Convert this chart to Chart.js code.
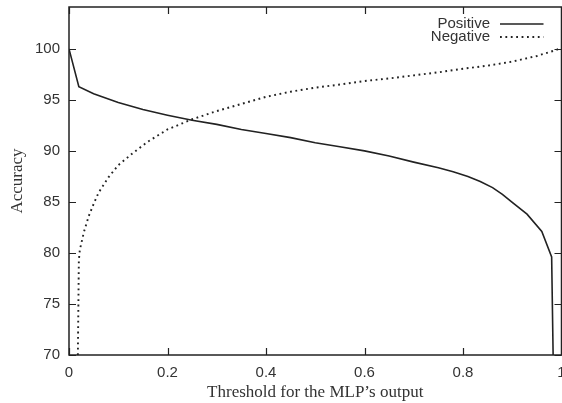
<!DOCTYPE html>
<html>
<head>
<meta charset="utf-8">
<script src="https://cdn.jsdelivr.net/npm/chart.js@4.4.1/dist/chart.umd.min.js"></script>
<style>
  html, body { margin: 0; padding: 0; background: #fff; overflow: hidden; }
  #wrap { position: relative; width: 562px; height: 403px; }
</style>
</head>
<body>
<div id="wrap"><canvas id="c"></canvas></div>
<script>
// ---- data ----
const positiveThresholds = [0, 0.02, 0.05, 0.1, 0.15, 0.2, 0.25, 0.3, 0.35, 0.4, 0.45, 0.5, 0.55, 0.6, 0.65, 0.7, 0.75, 0.78, 0.81, 0.835, 0.86, 0.88, 0.9, 0.93, 0.96, 0.98, 0.983];
const positiveAccuracy   = [100, 96.3, 95.6, 94.75, 94.05, 93.5, 93.0, 92.6, 92.1, 91.7, 91.3, 90.8, 90.4, 90.0, 89.5, 88.9, 88.35, 87.95, 87.5, 87.0, 86.4, 85.75, 84.95, 83.8, 82.1, 79.6, 70];

const negativeThresholds = [0.018, 0.02, 0.022, 0.03, 0.04, 0.05, 0.06, 0.08, 0.1, 0.13, 0.16, 0.2, 0.25, 0.3, 0.35, 0.4, 0.45, 0.5, 0.55, 0.6, 0.65, 0.7, 0.75, 0.8, 0.85, 0.9, 0.95, 0.99, 1.0];
const negativeAccuracy   = [70, 79.3, 80.3, 82.0, 83.6, 84.8, 85.9, 87.4, 88.6, 89.8, 90.9, 92.1, 93.1, 93.9, 94.6, 95.3, 95.8, 96.2, 96.5, 96.85, 97.1, 97.4, 97.7, 98.05, 98.35, 98.75, 99.3, 99.9, 100.1];

const seriesLabels = ['Positive', 'Negative'];
const xTickValues = [0, 0.2, 0.4, 0.6, 0.8, 1];
const yTickValues = [70, 75, 80, 85, 90, 95, 100];
const xTitle = 'Threshold for the MLP\u2019s output';
const yTitle = 'Accuracy';

const INK = '#222';
const TEXT = '#333';

function pts(xs, ys) { return xs.map((x, i) => ({ x: x, y: ys[i] })); }

// frame, inward ticks and gnuplot-style legend
const framePlugin = {
  id: 'frame',
  afterDatasetsDraw(chart) {
    const { ctx, chartArea: a, scales } = chart;
    const xs = scales.x, ys = scales.y;
    const L = 7;
    ctx.save();
    ctx.strokeStyle = INK;
    ctx.lineWidth = 1.2;
    ctx.setLineDash([]);
    ctx.beginPath();
    xTickValues.forEach(v => {
      const px = Math.round(xs.getPixelForValue(v)) + 0.5;
      ctx.moveTo(px, a.bottom); ctx.lineTo(px, a.bottom - L);
      ctx.moveTo(px, a.top); ctx.lineTo(px, a.top + L);
    });
    yTickValues.forEach(v => {
      const py = Math.round(ys.getPixelForValue(v)) + 0.5;
      ctx.moveTo(a.left, py); ctx.lineTo(a.left + L, py);
      ctx.moveTo(a.right, py); ctx.lineTo(a.right - L, py);
    });
    ctx.stroke();
    ctx.lineWidth = 1.5;
    ctx.strokeRect(a.left, a.top, a.right - a.left, a.bottom - a.top);

    // legend
    ctx.font = '15px "Liberation Sans", Arial, sans-serif';
    ctx.fillStyle = TEXT;
    ctx.textAlign = 'right';
    ctx.textBaseline = 'middle';
    chart.data.datasets.forEach((ds, i) => {
      const y = a.top + 16.5 + i * 13;
      ctx.fillText(ds.label, a.right - 71.5, y);
      ctx.strokeStyle = ds.borderColor;
      ctx.lineWidth = ds.borderWidth;
      ctx.setLineDash(ds.borderDash || []);
      ctx.beginPath();
      ctx.moveTo(a.right - 61.5, y + 0.5);
      ctx.lineTo(a.right - 18, y + 0.5);
      ctx.stroke();
    });
    ctx.restore();
  }
};

const fmt = v => String(+Number(v).toFixed(1));

new Chart(document.getElementById('c'), {
  type: 'scatter',
  data: {
    datasets: [
      {
        label: seriesLabels[0],
        data: pts(positiveThresholds, positiveAccuracy),
        showLine: true,
        borderColor: INK,
        borderWidth: 1.6,
        pointRadius: 0,
        tension: 0
      },
      {
        label: seriesLabels[1],
        data: pts(negativeThresholds, negativeAccuracy),
        showLine: true,
        borderColor: INK,
        borderWidth: 1.9,
        borderDash: [1.8, 3.6],
        pointRadius: 0,
        tension: 0
      }
    ]
  },
  options: {
    responsive: true,
    maintainAspectRatio: false,
    animation: false,
    devicePixelRatio: 1,
    layout: { padding: { top: 7, right: 0.5, left: 0, bottom: 0 } },
    plugins: { legend: { display: false }, tooltip: { enabled: false } },
    scales: {
      x: {
        type: 'linear',
        min: 0, max: 1,
        grid: { display: false, drawTicks: false, tickLength: 0 },
        border: { display: false },
        afterBuildTicks: s => { s.ticks = xTickValues.map(v => ({ value: v })); },
        ticks: {
          color: TEXT,
          font: { family: '"Liberation Sans", Arial, sans-serif', size: 15 },
          padding: 8.5,
          maxRotation: 0,
          callback: fmt
        },
        title: {
          display: true,
          text: xTitle,
          color: TEXT,
          font: { family: '"Liberation Serif", "Times New Roman", serif', size: 17 },
          padding: { top: 0, bottom: 0 }
        },
        afterFit: s => { s.height = 48; s.paddingLeft = 0; s.paddingRight = 0; }
      },
      y: {
        type: 'linear',
        min: 70, max: 104.1,
        grid: { display: false, drawTicks: false, tickLength: 0 },
        border: { display: false },
        afterBuildTicks: s => { s.ticks = yTickValues.map(v => ({ value: v })); },
        ticks: {
          color: TEXT,
          font: { family: '"Liberation Sans", Arial, sans-serif', size: 15 },
          padding: 9,
          callback: fmt
        },
        title: {
          display: true,
          text: yTitle,
          color: TEXT,
          font: { family: '"Liberation Serif", "Times New Roman", serif', size: 17 },
          padding: { top: 7, bottom: 0 }
        },
        afterFit: s => { s.width = 69; s.paddingTop = 0; s.paddingBottom = 0; }
      }
    }
  },
  plugins: [framePlugin]
});
</script>
</body>
</html>
